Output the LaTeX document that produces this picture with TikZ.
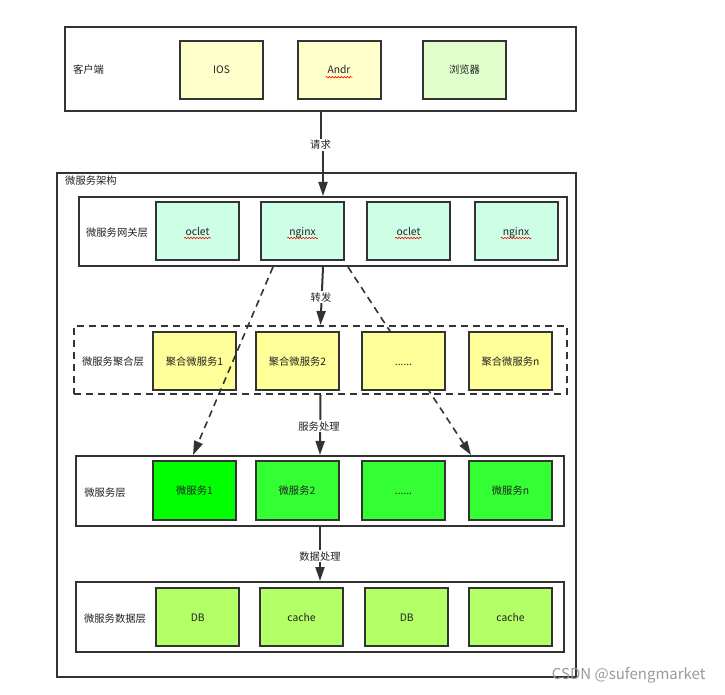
\documentclass[tikz,border=0pt]{standalone}
\usepackage{fontspec}
\setmainfont{Noto Sans CJK SC}
\usetikzlibrary{arrows.meta,calc,decorations.pathmorphing}
\definecolor{ln}{HTML}{333333}
\definecolor{txt}{HTML}{222222}
\definecolor{cyel}{HTML}{FFFFCC}
\definecolor{cbrw}{HTML}{E1FFCC}
\definecolor{cgw}{HTML}{CCFFE6}
\definecolor{cagg}{HTML}{FFFF99}
\definecolor{csv1}{HTML}{00FF00}
\definecolor{csv}{HTML}{33FF33}
\definecolor{cdb}{HTML}{B3FF66}
\definecolor{wmk}{HTML}{9A9A9A}
\begin{document}
\begin{tikzpicture}[x=1pt,y=-1pt,
  every node/.style={font=\fontsize{10.3}{12}\selectfont, text=txt},
  layer/.style={draw=ln, line width=2pt, fill=white, inner sep=0pt},
  cell/.style={draw=ln, line width=2pt, inner sep=0pt, minimum width=83pt, minimum height=58pt,
               text height=9pt, text depth=1pt},
  lbl/.style={inner sep=0pt, text height=9pt, text depth=1pt},
  arr/.style={draw=ln, line width=2pt, -{Triangle[length=14pt,width=9pt]}},
  darr/.style={draw=ln, line width=1.6pt, dash pattern=on 7pt off 5pt, -{Triangle[length=14pt,width=9pt]}},
  wavy/.style={draw=red, line width=0.6pt, decorate, decoration={snake, amplitude=0.8pt, segment length=3pt}},
  elab/.style={fill=white, inner sep=1pt, text height=9pt, text depth=1pt}]
\useasboundingbox (0,0) rectangle (725,695);

% client layer
\node[layer, minimum width=511pt, minimum height=84pt] (client) at (320.5,69) {};
\node[lbl] (clientlbl) at (88.5,70) {客户端};
\node[cell, fill=cyel] (ios) at (221.5,70) {IOS};
\node[cell, fill=cyel] (andr) at (339,70) {Andr};
\node[cell, fill=cbrw] (brw) at (464.5,70) {浏览器};
\draw[wavy] ($(andr.center)+(-13.5,7.2)$) -- ($(andr.center)+(13.5,7.2)$);

% architecture frame
\node[layer, minimum width=519pt, minimum height=504pt] (arch) at (316.5,425) {};
\node[lbl, anchor=west] (archlbl) at (65,181) {微服务架构};

% gateway layer
\node[layer, minimum width=488pt, minimum height=69pt] (gw) at (323,231.5) {};
\node[lbl] (gwlbl) at (117,232) {微服务网关层};
\node[cell, fill=cgw] (oc1) at (197.5,231) {oclet};
\node[cell, fill=cgw] (ng1) at (302.5,231) {nginx};
\node[cell, fill=cgw] (oc2) at (408.5,231) {oclet};
\node[cell, fill=cgw] (ng2) at (516,231) {nginx};
\foreach \n/\w in {oc1/13.4, oc2/13.4, ng1/15.2, ng2/15.2}
  \draw[wavy] ($(\n.center)+(-\w,7)$) -- ($(\n.center)+(\w,7)$);

% aggregation layer
\node[draw=ln, line width=2pt, dash pattern=on 7pt off 5pt, inner sep=0pt,
      minimum width=493pt, minimum height=68pt] (agg) at (320.5,360) {};
\node[lbl] (agglbl) at (113,361) {微服务聚合层};

% services layer (box first so dashed arrows end on it)
\node[layer, minimum width=488pt, minimum height=70pt] (svc) at (320,491) {};
\node[lbl] (svclbl) at (105,492) {微服务层};

% right dashed connector (passes behind the aggregation cells)
\draw[darr] ($(gw.south)+(25,0)$) -- ($(svc.north)+(151,0)$);

\node[cell, fill=cagg] (ag1) at (194.5,361) {聚合微服务1};
\node[cell, fill=cagg] (ag2) at (297.5,361) {聚合微服务2};
\node[cell, fill=cagg] (ag3) at (403.5,361) {......};
\node[cell, fill=cagg] (ag4) at (510.5,361) {聚合微服务n};

% left dashed connector (over the aggregation cells)
\draw[darr] ($(gw.south)+(-50,0)$) -- ($(svc.north)+(-127,0)$);

\node[cell, fill=csv1, minimum height=59pt] (sv1) at (194.5,490.5) {微服务1};
\node[cell, fill=csv, minimum height=59pt] (sv2) at (297,490.5) {微服务2};
\node[cell, fill=csv, minimum height=59pt] (sv3) at (403.5,490.5) {......};
\node[cell, fill=csv, minimum height=59pt] (sv4) at (510.5,490.5) {微服务n};

% data layer
\node[layer, minimum width=488pt, minimum height=70pt] (data) at (320,617) {};
\node[lbl] (datalbl) at (115,618) {微服务数据层};
\node[cell, fill=cdb] (db1) at (197.7,617) {DB};
\node[cell, fill=cdb] (ca1) at (301.5,617) {cache};
\node[cell, fill=cdb] (db2) at (406.8,617) {DB};
\node[cell, fill=cdb] (ca2) at (510.5,617) {cache};

% solid connectors
\draw[arr] (client.south) -- ++(0,34) -| (gw.north);
\node[elab] (l1) at (320.5,145) {请求};
\draw[arr] (gw.south) -- (agg.north);
\node[elab] (l2) at (321,297) {转发};
\draw[arr] (agg.south) -- (svc.north);
\node[elab] (l3) at (319,426) {服务处理};
\draw[arr] (svc.south) -- (data.north);
\node[elab] (l4) at (320,556) {数据处理};

% watermark
\node[anchor=east, text=wmk, font=\fontsize{15}{18}\selectfont] (wm) at (709,675) {CSDN @sufengmarket};
\end{tikzpicture}
\end{document}
